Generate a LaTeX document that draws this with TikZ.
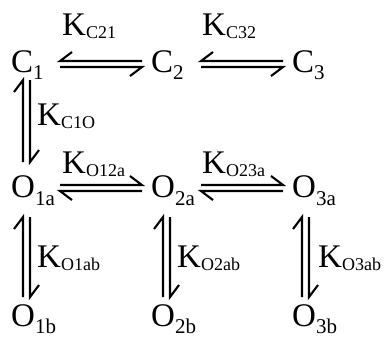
\documentclass[tikz,border=0pt]{standalone}
\usepackage{fontspec}
\setmainfont{Liberation Serif}
\newcommand{\bigf}{\fontsize{33}{40}\selectfont}
\newcommand{\subf}{\fontsize{21}{24}\selectfont}
\newcommand{\ksubf}{\fontsize{18}{22}\selectfont}
\newcommand{\spc}[2]{#1\raisebox{-8pt}{\subf #2}}
\newcommand{\kl}[1]{K\raisebox{-3pt}{\ksubf #1}}
\begin{document}
\begin{tikzpicture}[x=1pt,y=-1pt,
  lbl/.style={anchor=base west,inner sep=0pt,font=\bigf},
  hp/.style={line width=2.1pt,line join=miter}]
\useasboundingbox (0,0) rectangle (384,340);
% species
\node[lbl] (C1) at (11,72) {\spc{C}{1}};
\node[lbl] (C2) at (151,72) {\spc{C}{2}};
\node[lbl] (C3) at (292,72) {\spc{C}{3}};
\node[lbl] (O1a) at (11,197) {\spc{O}{1a}};
\node[lbl] (O2a) at (151,197) {\spc{O}{2a}};
\node[lbl] (O3a) at (292,197) {\spc{O}{3a}};
\node[lbl] (O1b) at (11,326) {\spc{O}{1b}};
\node[lbl] (O2b) at (151,326) {\spc{O}{2b}};
\node[lbl] (O3b) at (292,326) {\spc{O}{3b}};
% rate labels
\node[lbl] (kc21) at (62,35) {\kl{C21}};
\node[lbl] (kc32) at (202,35) {\kl{C32}};
\node[lbl] (kc1o) at (37,125) {\kl{C1O}};
\node[lbl] (ko12) at (62,173) {\kl{O12a}};
\node[lbl] (ko23) at (202,173) {\kl{O23a}};
\node[lbl] (ko1) at (37,267) {\kl{O1ab}};
\node[lbl] (ko2) at (177,267) {\kl{O2ab}};
\node[lbl] (ko3) at (318,267) {\kl{O3ab}};
% arrow end points
\foreach \n/\x in {1/0,2/141}{
  \coordinate (tL\n) at (60+\x,61);
  \coordinate (tR\n) at (142+\x,61);
  \coordinate (bL\n) at (60+\x,67);
  \coordinate (bR\n) at (142+\x,67);
  \coordinate (mtL\n) at (60+\x,185);
  \coordinate (mtR\n) at (142+\x,185);
  \coordinate (mbL\n) at (60+\x,191);
  \coordinate (mbR\n) at (142+\x,191);
}
% horizontal equilibria
\foreach \n in {1,2}{
  \draw[hp] (tR\n) -- (tL\n) -- ++(12,-9);
  \draw[hp] (bL\n) -- (bR\n) -- ++(-12,9);
  \draw[hp] (mbR\n) -- (mbL\n) -- ++(12,9);
  \draw[hp] (mtL\n) -- (mtR\n) -- ++(-12,-9);
}
% vertical equilibria
\coordinate (vC1t) at (23,80);  \coordinate (vC1b) at (23,162);
\coordinate (vC2t) at (30,80);  \coordinate (vC2b) at (30,162);
\draw[hp] (vC1b) -- (vC1t) -- ++(-9,12);
\draw[hp] (vC2t) -- (vC2b) -- ++(9,-12);
\foreach \n/\x in {1/0,2/140,3/279}{
  \coordinate (vl\n t) at (23+\x,217); \coordinate (vl\n b) at (23+\x,297);
  \coordinate (vr\n t) at (30+\x,217); \coordinate (vr\n b) at (30+\x,297);
  \draw[hp] (vl\n b) -- (vl\n t) -- ++(-9,12);
  \draw[hp] (vr\n t) -- (vr\n b) -- ++(9,-12);
}
\end{tikzpicture}
\end{document}
